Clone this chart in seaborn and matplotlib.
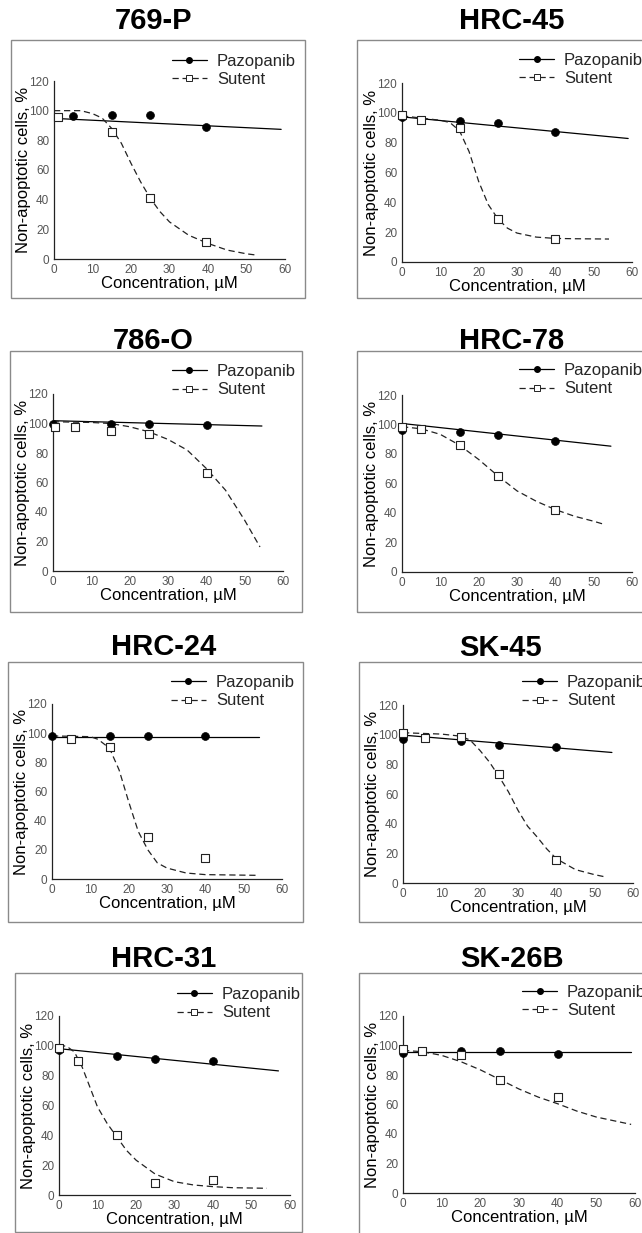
import matplotlib
matplotlib.use("Agg")
import matplotlib.pyplot as plt
from matplotlib.lines import Line2D
from matplotlib.patches import Rectangle
from matplotlib.ticker import MultipleLocator
import seaborn as sns
import pandas as pd

# ---------------- data ----------------
cell_lines = ["769-P", "HRC-45", "786-O", "HRC-78", "HRC-24", "SK-45", "HRC-31", "SK-26B"]

paz_conc = {
    "769-P": [5, 15, 25, 39.5], "HRC-45": [0, 15, 25, 40], "786-O": [0, 15, 25, 40.3],
    "HRC-78": [0, 15, 25, 40], "HRC-24": [0, 15, 25, 40], "SK-45": [0, 15, 25, 40],
    "HRC-31": [0, 15, 25, 40], "SK-26B": [0, 15, 25, 40],
}
paz_vals = {
    "769-P": [96.6, 97, 97, 89.2], "HRC-45": [96.9, 94.6, 93.3, 87.1],
    "786-O": [99.4, 99.4, 99.4, 98.9], "HRC-78": [96.2, 95.1, 92.8, 88.7],
    "HRC-24": [98.3, 98.3, 98.3, 98.3], "SK-45": [97, 95.7, 93, 91.8],
    "HRC-31": [97, 93, 91.5, 89.7], "SK-26B": [94.9, 96, 96, 94.5],
}
paz_fit_conc = {
    "769-P": [0, 59], "HRC-45": [0, 59], "786-O": [0, 54.5], "HRC-78": [0, 54.5],
    "HRC-24": [0, 54], "SK-45": [0, 54.5], "HRC-31": [0, 57], "SK-26B": [0, 59],
}
paz_fit_vals = {
    "769-P": [94.8, 87.4], "HRC-45": [97.3, 82.8], "786-O": [101.9, 98.3],
    "HRC-78": [100.7, 85.3], "HRC-24": [97.6, 97.6], "SK-45": [99.7, 88],
    "HRC-31": [98.1, 83.2], "SK-26B": [95.6, 95.6],
}

sut_conc = {
    "769-P": [1, 15, 25, 39.5], "HRC-45": [0, 5, 15, 25, 40], "786-O": [0.5, 5.8, 15, 25, 40.3],
    "HRC-78": [0, 5, 15, 25, 40], "HRC-24": [5, 15, 25, 40], "SK-45": [0, 5.7, 15, 25, 40],
    "HRC-31": [0, 5, 15, 25, 40], "SK-26B": [0, 5, 15, 25, 40],
}
sut_vals = {
    "769-P": [95.5, 85.8, 41, 11.2], "HRC-45": [98.4, 95.5, 89.5, 28.5, 15.4],
    "786-O": [97.6, 97.6, 94.9, 93, 66.6], "HRC-78": [98.5, 96.9, 86, 65.2, 42.1],
    "HRC-24": [95.8, 90.8, 28.7, 14.6], "SK-45": [101.3, 97.9, 98.6, 73.4, 15.8],
    "HRC-31": [98.8, 89.7, 40.2, 7.8, 10], "SK-26B": [97.6, 96, 93.3, 76.4, 65],
}
sut_fit_conc = {
    "769-P": [0, 7, 10, 12.5, 15, 17.5, 20, 22.5, 25, 27.5, 30, 35, 40, 45, 50, 53],
    "HRC-45": [0, 5, 10, 12.5, 15, 17.5, 20, 22.5, 25, 27.5, 30, 35, 40, 45, 54],
    "786-O": [0, 10, 15, 20, 25, 30, 35, 40, 45, 50, 54],
    "HRC-78": [0, 5, 10, 15, 20, 25, 30, 35, 40, 45, 50, 53],
    "HRC-24": [0, 10, 12, 15, 17.5, 20, 22.5, 25, 27.5, 30, 35, 40, 54],
    "SK-45": [0, 10, 15, 17.5, 20, 22.5, 25, 27.5, 30, 32.5, 35, 37.5, 40, 45, 50, 53],
    "HRC-31": [0, 2, 4, 6, 8, 10, 12.5, 15, 17.5, 20, 25, 30, 35, 40, 45, 54],
    "SK-26B": [0, 5, 10, 15, 20, 25, 30, 35, 40, 45, 50, 59],
}
sut_fit_vals = {
    "769-P": [100, 100, 98, 95, 88, 78, 64.5, 52, 41, 32, 25, 16, 10.5, 6, 3.5, 2.5],
    "HRC-45": [98, 96.5, 95, 93.5, 88, 74, 54, 38.5, 29, 22.7, 19.4, 16.7, 15.8, 15.6, 15.4],
    "786-O": [101.2, 100.7, 100, 97.8, 94.4, 89.2, 82, 69.5, 54.8, 34.4, 16.3],
    "HRC-78": [98.5, 97.1, 93.3, 86, 76.3, 65.2, 55, 48, 42.3, 37.8, 34.4, 32.1],
    "HRC-24": [98.1, 97.6, 95.8, 89.7, 74.8, 53, 32.6, 20, 11, 7.5, 4.1, 3, 2.5],
    "SK-45": [101.3, 100.4, 99, 96.4, 89.6, 81.7, 72, 61.5, 49, 38.3, 31, 23, 16.4, 9, 5.6, 4],
    "HRC-31": [100.4, 99.7, 95.9, 85.9, 72.5, 59, 48, 39, 30, 23.4, 14, 8.9, 6.7, 5.6, 4.9, 4.5],
    "SK-26B": [96.7, 95.8, 93.3, 89, 83.5, 77, 70.5, 65, 60.5, 55.5, 51.5, 46.5],
}

x_ticks = [0, 10, 20, 30, 40, 50, 60]
y_ticks = [0, 20, 40, 60, 80, 100, 120]
x_label = "Concentration, µM"
y_label = "Non-apoptotic cells, %"
series_names = ["Pazopanib", "Sutent"]

# ---------------- layout (pixels) ----------------
W, H = 642, 1233
# axes: left(x=0), right(x=60), top(y=120), bottom(y=0)
axes_px = {
    "769-P": (54, 285, 81, 259), "HRC-45": (402, 632, 83, 262),
    "786-O": (53, 283, 394, 571), "HRC-78": (402, 632, 395, 572),
    "HRC-24": (52, 282, 704, 879), "SK-45": (403, 633, 705, 883),
    "HRC-31": (59, 290, 1016, 1195), "SK-26B": (403, 635, 1016, 1193),
}
frame_px = {
    "769-P": (11, 305, 40, 298), "HRC-45": (357, 680, 40, 298),
    "786-O": (10, 302, 351, 612), "HRC-78": (357, 680, 351, 612),
    "HRC-24": (8, 303, 662, 922), "SK-45": (359, 680, 662, 922),
    "HRC-31": (15, 302, 973, 1232), "SK-26B": (359, 680, 973, 1240),
}
title_px = {
    "769-P": (153, 21), "HRC-45": (512, 21), "786-O": (153, 341), "HRC-78": (512, 341),
    "HRC-24": (164, 647), "SK-45": (501, 648), "HRC-31": (164, 959), "SK-26B": (512, 959),
}
legend_px = {
    "769-P": (172, 54), "HRC-45": (519, 53), "786-O": (172, 364), "HRC-78": (519, 363),
    "HRC-24": (171, 675), "SK-45": (522, 675), "HRC-31": (177, 987), "SK-26B": (522, 985),
}

sns.set_theme(style="white")
plt.rcParams["font.family"] = ["Liberation Sans", "DejaVu Sans"]
plt.rcParams["axes.linewidth"] = 0.9

fig = plt.figure(figsize=(W / 100, H / 100), dpi=100)
fig.patch.set_facecolor("white")

axis_col = "#222222"
tick_col = "#555555"
frame_col = "#8a8a8a"
dash = (5, 3)

for name in cell_lines:
    # frame box
    fl, fr, ft, fb = frame_px[name]
    fig.add_artist(Rectangle((fl / W, 1 - fb / H), (fr - fl) / W, (fb - ft) / H,
                             transform=fig.transFigure, fill=False,
                             edgecolor=frame_col, linewidth=1.0))
    tx, ty = title_px[name]
    fig.text(tx / W, 1 - ty / H, name, ha="center", va="center",
             fontsize=21, fontweight="bold", color="black")

    l, r, t, b = axes_px[name]
    ax = fig.add_axes([l / W, 1 - b / H, (r - l) / W, (b - t) / H])
    ax.set_facecolor("none")

    df_paz_fit = pd.DataFrame({"x": paz_fit_conc[name], "y": paz_fit_vals[name]})
    df_sut_fit = pd.DataFrame({"x": sut_fit_conc[name], "y": sut_fit_vals[name]})
    df_paz = pd.DataFrame({"x": paz_conc[name], "y": paz_vals[name]})
    df_sut = pd.DataFrame({"x": sut_conc[name], "y": sut_vals[name]})

    sns.lineplot(data=df_paz_fit, x="x", y="y", ax=ax, color="black",
                 linewidth=0.9, estimator=None, sort=False)
    sns.lineplot(data=df_sut_fit, x="x", y="y", ax=ax, color="#222222",
                 linewidth=0.9, estimator=None, sort=False, dashes=False)
    ax.lines[-1].set_dashes(dash)
    sns.scatterplot(data=df_paz, x="x", y="y", ax=ax, color="black", marker="o",
                    s=32, edgecolor="black", linewidth=0.5, clip_on=False, zorder=5)
    sns.scatterplot(data=df_sut, x="x", y="y", ax=ax, marker="s", s=26,
                    facecolor="white", edgecolor="#222222", linewidth=0.8,
                    clip_on=False, zorder=6)

    ax.set_xlim(0, 60)
    ax.set_ylim(0, 120)
    ax.set_xticks(x_ticks)
    ax.set_yticks(y_ticks)
    ax.xaxis.set_minor_locator(MultipleLocator(2))
    ax.yaxis.set_minor_locator(MultipleLocator(2))
    for s in ["top", "right"]:
        ax.spines[s].set_visible(False)
    for s in ["left", "bottom"]:
        ax.spines[s].set_color(axis_col)
        ax.spines[s].set_linewidth(0.9)
    ax.tick_params(which="major", direction="inout", length=5, width=0.8,
                   color=axis_col, labelsize=8.5, labelcolor=tick_col, pad=1)
    ax.tick_params(which="minor", direction="inout", length=2.5, width=0.6,
                   color=axis_col)
    ax.set_xlabel(x_label, fontsize=12, labelpad=0, color="black")
    ax.set_ylabel(y_label, fontsize=12, labelpad=-1, color="black")

    handles = [
        Line2D([], [], color="black", linewidth=0.9, marker="o", markersize=4,
               markerfacecolor="black", markeredgecolor="black"),
        Line2D([], [], color="#222222", linewidth=0.9, linestyle=(0, dash), marker="s",
               markersize=4, markerfacecolor="white", markeredgecolor="#222222",
               markeredgewidth=0.7),
    ]
    lx, ly = legend_px[name]
    ax.legend(handles, series_names, loc="upper left",
              bbox_to_anchor=(lx / W, 1 - ly / H), bbox_transform=fig.transFigure,
              frameon=False, borderpad=0, borderaxespad=0, handlelength=2.1,
              handletextpad=0.6, labelspacing=0.2, fontsize=12)

fig.savefig("out.png", dpi=100, facecolor="white")
